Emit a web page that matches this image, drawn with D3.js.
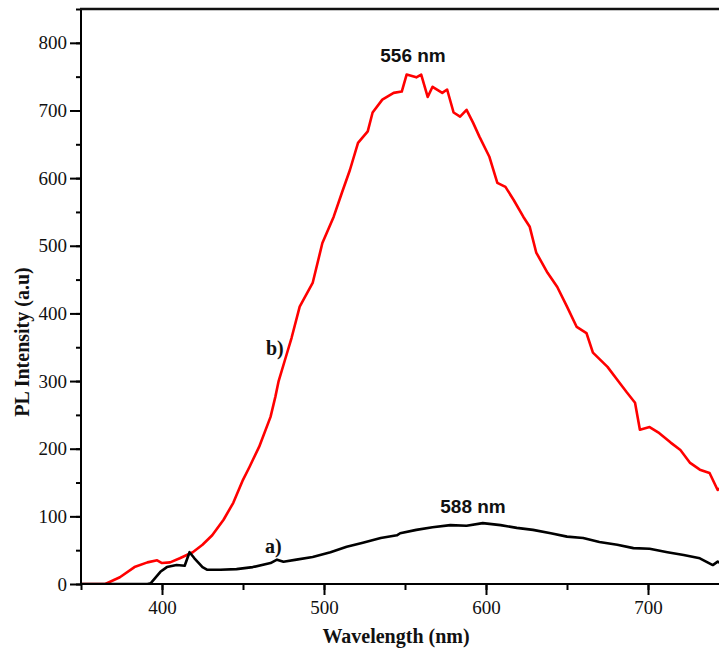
<!DOCTYPE html>
<html>
<head>
<meta charset="utf-8">
<script src="https://cdn.jsdelivr.net/npm/d3@7"></script>
<style>
body { margin: 0; background: #fff; }
text { fill: #111; }
</style>
</head>
<body>
<script>
var w = 719;
var h = 649;

// spectrum b) (red)
var wlB = [350, 365, 374, 383, 391, 397, 400, 405, 411, 419, 425, 431, 438, 444, 450, 454, 460, 467, 470, 472,
    477, 480, 485, 493, 499, 506, 511, 516, 521, 527, 530, 536, 543, 548, 551, 557, 560, 564, 567, 573,
    576, 580, 584, 588, 592, 596, 602, 607, 612, 617, 623, 627, 631, 638, 644, 650, 656, 662, 666, 675,
    681, 687, 692, 695, 701, 707, 714, 720, 726, 732, 738, 743, 746];
var intB = [0, 0, 10, 25, 32, 35, 31, 32, 38, 47, 58, 72, 95, 120, 154, 173, 203, 247, 277, 300,
    340, 364, 410, 445, 504, 543, 578, 612, 652, 669, 697, 716, 726, 728, 753, 749, 753, 720, 735, 726,
    731, 697, 691, 701, 682, 661, 632, 593, 587, 568, 543, 528, 490, 460, 439, 410, 380, 371, 342, 321,
    302, 283, 268, 228, 232, 223, 209, 198, 179, 169, 164, 139, 145];

// spectrum a) (black)
var wlA = [350, 391, 393, 399, 403, 409, 414, 417, 420, 425, 428, 436, 446, 456, 467, 471, 475, 483, 493, 504,
    514, 524, 535, 545, 547, 557, 567, 578, 588, 598, 609, 619, 629, 640, 650, 660, 670, 681, 691, 701,
    712, 722, 732, 740, 743, 746];
var intA = [0, 0, 1, 18, 25, 28, 27, 47, 38, 25, 21, 21, 22, 25, 31, 36, 33, 36, 40, 47,
    55, 61, 68, 72, 75, 80, 84, 87, 86, 90, 87, 83, 80, 75, 70, 68, 62, 58, 53, 52,
    47, 43, 38, 28, 33, 30];

var xTicks = [400, 500, 600, 700];
var yTicks = [0, 100, 200, 300, 400, 500, 600, 700, 800];

var padL = 81, padT = 9, padB = 584;

var x = d3.scaleLinear().domain([350, 750]).range([padL, padL + 648]);
var y = d3.scaleLinear().domain([0, 850]).range([padB, padT]);

var svg = d3.select("body")
    .append("svg")
    .attr("width", w)
    .attr("height", h)
    .style("font-family", "'Liberation Serif', 'Times New Roman', serif");

svg.append("defs").append("clipPath")
    .attr("id", "plot")
    .append("rect")
    .attr("x", padL)
    .attr("y", padT)
    .attr("width", 660)
    .attr("height", padB - padT);

var line = d3.line()
    .x(function (d) { return x(d[0]); })
    .y(function (d) { return y(d[1]); });

function pairs(a, b) {
    return a.map(function (v, i) { return [v, b[i]]; });
}

var curves = svg.append("g").attr("clip-path", "url(#plot)");

curves.append("path")
    .datum(pairs(wlB, intB))
    .attr("d", line)
    .attr("fill", "none")
    .attr("stroke", "#ff0000")
    .attr("stroke-width", 2.6)
    .attr("stroke-linejoin", "round");

curves.append("path")
    .datum(pairs(wlA, intA))
    .attr("d", line)
    .attr("fill", "none")
    .attr("stroke", "#000")
    .attr("stroke-width", 2.6)
    .attr("stroke-linejoin", "round");

// minor ticks
var xMinor = d3.axisBottom(x).tickValues(d3.range(350, 751, 50)).tickSize(6).tickFormat("");
var yMinor = d3.axisLeft(y).tickValues(d3.range(0, 851, 50)).tickSize(5).tickFormat("");

svg.append("g").attr("transform", "translate(0," + padB + ")").call(xMinor);
svg.append("g").attr("transform", "translate(" + padL + ",0)").call(yMinor);

var xAxis = d3.axisBottom(x).tickValues(xTicks).tickSize(11).tickPadding(6);
var yAxis = d3.axisLeft(y).tickValues(yTicks).tickSize(11).tickPadding(3);

svg.append("g").attr("class", "axis").attr("transform", "translate(0," + padB + ")").call(xAxis);
svg.append("g").attr("class", "axis").attr("transform", "translate(" + padL + ",0)").call(yAxis);

svg.selectAll(".domain").remove();
svg.selectAll(".tick line").attr("stroke", "#000").attr("stroke-width", 2);
svg.selectAll(".axis .tick text")
    .attr("fill", "#222")
    .style("font-size", "19px")
    .style("font-family", "'Liberation Serif', serif");

// frame lines
svg.append("line").attr("x1", padL).attr("x2", w).attr("y1", padB).attr("y2", padB)
    .attr("stroke", "#000").attr("stroke-width", 2);
svg.append("line").attr("x1", padL).attr("x2", padL).attr("y1", padT).attr("y2", padB + 1)
    .attr("stroke", "#000").attr("stroke-width", 2);
svg.append("line").attr("x1", padL - 1).attr("x2", w).attr("y1", padT).attr("y2", padT)
    .attr("stroke", "#111").attr("stroke-width", 2.5);

// axis titles
svg.append("text")
    .attr("x", 396)
    .attr("y", 643)
    .attr("text-anchor", "middle")
    .style("font-size", "20px")
    .style("font-weight", "bold")
    .text("Wavelength (nm)");

svg.append("text")
    .attr("transform", "translate(29,342) rotate(-90)")
    .attr("text-anchor", "middle")
    .style("font-size", "20px")
    .style("font-weight", "bold")
    .text("PL Intensity (a.u)");

// annotations
svg.append("text")
    .attr("x", 413).attr("y", 62)
    .attr("text-anchor", "middle")
    .style("font-family", "'Liberation Sans', Arial, sans-serif")
    .style("font-size", "19px")
    .style("font-weight", "bold")
    .text("556 nm");

svg.append("text")
    .attr("x", 473).attr("y", 513)
    .attr("text-anchor", "middle")
    .style("font-family", "'Liberation Sans', Arial, sans-serif")
    .style("font-size", "19px")
    .style("font-weight", "bold")
    .text("588 nm");

svg.append("text")
    .attr("x", 266).attr("y", 355)
    .style("font-size", "20px")
    .style("font-weight", "bold")
    .text("b)");

svg.append("text")
    .attr("x", 265).attr("y", 553)
    .style("font-size", "20px")
    .style("font-weight", "bold")
    .text("a)");
</script>
</body>
</html>
